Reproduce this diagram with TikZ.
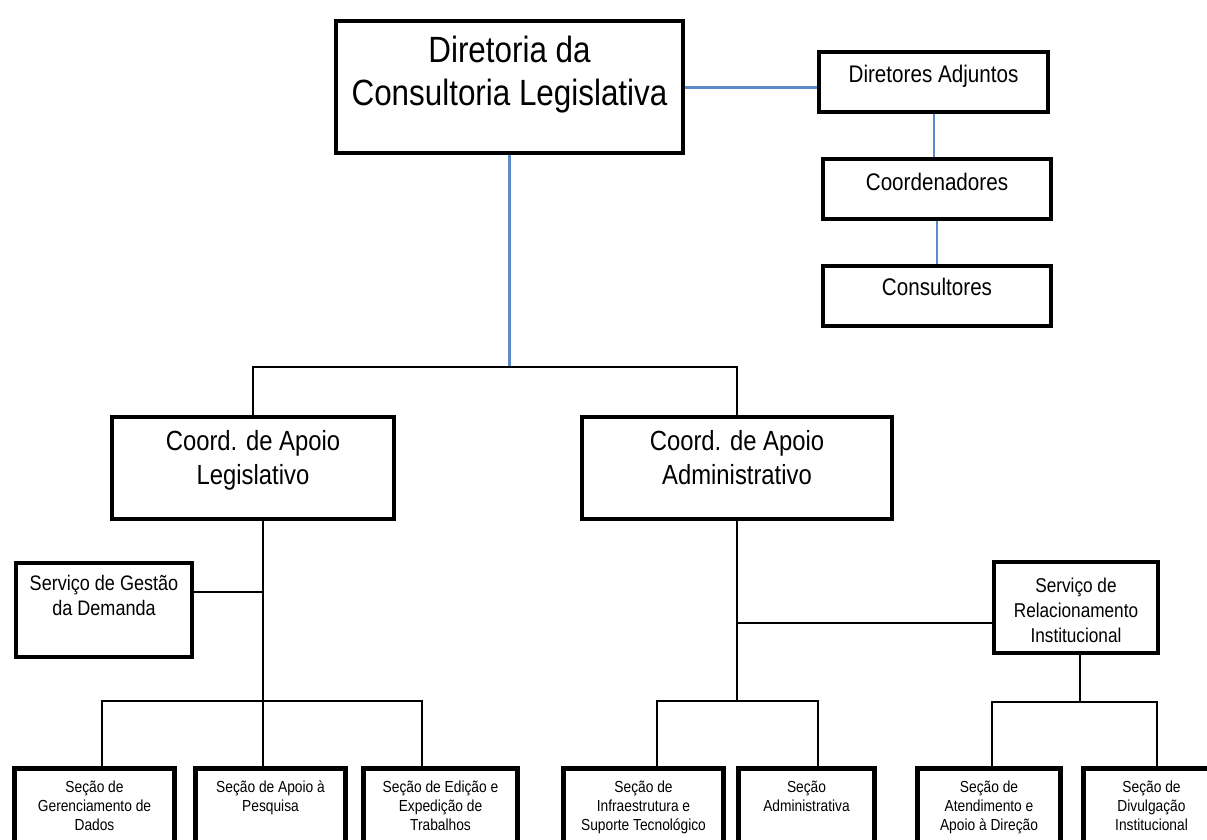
\documentclass[tikz,border=0pt]{standalone}
\usepackage{fontspec}
\setmainfont[FakeStretch=0.86]{Liberation Sans}
\definecolor{lblue}{RGB}{91,139,200}
\newcommand{\bxt}[6]{\parbox[c][#2pt][t]{#1pt}{\centering\fontsize{#4pt}{#5pt}\selectfont\rule{0pt}{#3pt}#6\par}}
\begin{document}
\begin{tikzpicture}[x=1pt,y=-1pt,
  box/.style={draw, line width=4pt, inner sep=0pt, anchor=north west, fill=white},
  sbox/.style={box, line width=5pt},
  conn/.style={line width=2pt, black},
  bconn/.style={line width=3pt, lblue},
  bthin/.style={line width=2pt, lblue}]
\fill[white] (0,0) rectangle (1207,839);
\useasboundingbox (0,0) rectangle (1207,839);
% boxes
\node[box] (main) at (334,19) {\bxt{347}{132}{41}{36.5}{43}{Diretoria da\\Consultoria Legislativa}};
\node[box] (dir) at (817,50) {\bxt{229}{60}{30}{24}{28}{Diretores Adjuntos}};
\node[box] (coo) at (821,157) {\bxt{228}{60}{31}{24}{28}{Coordenadores}};
\node[box] (con) at (821,264) {\bxt{228}{60}{29}{24}{28}{Consultores}};
\node[box] (cal) at (110,415) {\bxt{282}{102}{33}{27.7}{34}{Coord. de Apoio\\Legislativo}};
\node[box] (cad) at (580,415) {\bxt{310}{102}{33}{27.7}{34}{Coord. de Apoio\\Administrativo}};
\node[box] (sgd) at (14,561) {\bxt{176}{94}{27}{21}{25}{Serviço de Gestão\\da Demanda}};
\node[box] (sri) at (992,560) {\bxt{164}{91}{30}{20}{25}{Serviço de\\Relacionamento\\Institucional}};
\node[sbox] (b1) at (12,766) {\bxt{160}{100}{24}{16}{19}{Seção de\\Gerenciamento de\\Dados}};
\node[sbox] (b2) at (193,766) {\bxt{150}{100}{24}{16}{19}{Seção de Apoio à\\Pesquisa}};
\node[sbox] (b3) at (361,766) {\bxt{154}{100}{24}{16}{19}{Seção de Edição e\\Expedição de\\Trabalhos}};
\node[sbox] (b4) at (561,766) {\bxt{160}{100}{24}{16}{19}{Seção de\\Infraestrutura e\\Suporte Tecnológico}};
\node[sbox] (b5) at (736,766) {\bxt{136}{100}{24}{16}{19}{Seção\\Administrativa}};
\node[sbox] (b6) at (915,766) {\bxt{143}{100}{24}{16}{19}{Seção de\\Atendimento e\\Apoio à Direção}};
\node[sbox] (b7) at (1081,766) {\bxt{136}{100}{24}{16}{19}{Seção de\\Divulgação\\Institucional}};
% coordinates
\coordinate (j1) at (507,367);
\coordinate (sgdy) at (0,592);
\coordinate (lb1) at (102,701);
\coordinate (lb2) at (263,701);
\coordinate (lb3) at (422,701);
\coordinate (mb1) at (657,701);
\coordinate (mb2) at (818,701);
\coordinate (mj) at (736,623);
\coordinate (rv) at (1080,702);
\coordinate (rb1) at (992,702);
\coordinate (rb2) at (1157,702);
% blue connectors
\draw[bconn] (main.east) -- (main.east -| dir.west);
\draw[bthin] (dir.south) -- (dir.south |- coo.north);
\draw[bthin] (coo.south) -- (coo.south |- con.north);
\draw[bconn] (main.south) -- (main.south |- j1);
% black connectors
\draw[conn] (cal.north) -- (cal.north |- j1) -- (cad.north |- j1) -- (cad.north);
\draw[conn] (cal.south -| lb2) -- (lb2);
\draw[conn] (sgd.east |- sgdy) -- (lb2 |- sgdy);
\draw[conn] (lb1 |- b1.north) -- (lb1) -- (lb3) -- (lb3 |- b3.north);
\draw[conn] (lb2) -- (lb2 |- b2.north);
\draw[conn] (cad.south) -- (cad.south |- mb1);
\draw[conn] (cad.south |- mj) -- (mj -| sri.west);
\draw[conn] (mb1 |- b4.north) -- (mb1) -- (mb2) -- (mb2 |- b5.north);
\draw[conn] (sri.south -| rv) -- (rv);
\draw[conn] (rb1 |- b6.north) -- (rb1) -- (rb2) -- (rb2 |- b7.north);
\end{tikzpicture}
\end{document}
